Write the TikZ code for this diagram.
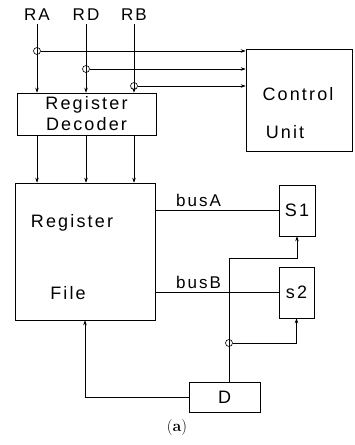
\documentclass[tikz,border=0pt]{standalone}
\usepackage{fontspec}
\newfontfamily\plotfont[LetterSpace=12]{Liberation Sans}
\usetikzlibrary{arrows.meta}
\tikzset{
  box/.style={draw,inner sep=0pt},
  big/.style={font=\plotfont\fontsize{18}{21}\selectfont},
  small/.style={font=\plotfont\fontsize{17}{20}\selectfont},
  junc/.style={draw,circle,inner sep=0pt,minimum size=7pt}
}
\begin{document}
\begin{tikzpicture}[x=1pt,y=-1pt,line width=0.6pt,>={Stealth[length=5pt,width=3.5pt]}]
\useasboundingbox (0,0) rectangle (354,445);

% boxes
\node[box,big,align=center,minimum width=139pt,minimum height=42pt] (dec) at (86.5,114) {Register\\Decoder};
\node[box,minimum width=106pt,minimum height=102pt] (ctrl) at (299,100) {};
\node[box,minimum width=140pt,minimum height=137pt] (rf) at (85,251.5) {};
\node[box,big,minimum width=36pt,minimum height=51pt] (s1) at (297,210.5) {S1};
\node[box,big,minimum width=35pt,minimum height=51pt] (s2) at (296.5,292.5) {s2};
\node[box,big,minimum width=71pt,minimum height=30pt] (d) at (224.5,397) {D};

\node[big] (ctl1) at (298,94) {Control};
\node[big] (ctl2) at (285,132) {Unit};
\node[big] (rf1) at (72,223) {Register};
\node[big] (rf2) at (68,293) {File};

% register addresses
\node[small] (ra) at (37,15) {RA};
\node[small] (rd) at (86,15) {RD};
\node[small] (rb) at (134,15) {RB};
\node[junc] (ja) at (37,51) {};
\node[junc] (jd) at (86,69) {};
\node[junc] (jb) at (134,86) {};

\draw[->] (ra.south) -- (ra.south |- dec.north);
\draw[->] (rd.south) -- (rd.south |- dec.north);
\draw[->] (rb.south) -- (rb.south |- dec.north);
\draw[->] (ja) -- (ja -| ctrl.west);
\draw[->] (jd) -- (jd -| ctrl.west);
\draw[->] (jb) -- (jb -| ctrl.west);

\draw[->] (ra |- dec.south) -- (ra |- rf.north);
\draw[->] (rd |- dec.south) -- (rd |- rf.north);
\draw[->] (rb |- dec.south) -- (rb |- rf.north);

% buses
\draw (s1.west -| rf.east) -- node[small,above,pos=0.35]{busA} (s1.west);
\draw (s2.west -| rf.east) -- node[small,above,pos=0.35]{busB} (s2.west);

% D
\coordinate (dtap) at ([xshift=4.5pt]d.north);
\node[junc] (jd2) at (229,343) {};
\draw[->] (dtap) -- (229,258) -| (s1.south);
\draw[->] (jd2) -| (s2.south);
\draw[->] (d.west) -| (rf.south);

\node[font=\fontsize{16}{19}\selectfont] (cap) at (177,428) {(\textbf{a})};
\end{tikzpicture}
\end{document}
